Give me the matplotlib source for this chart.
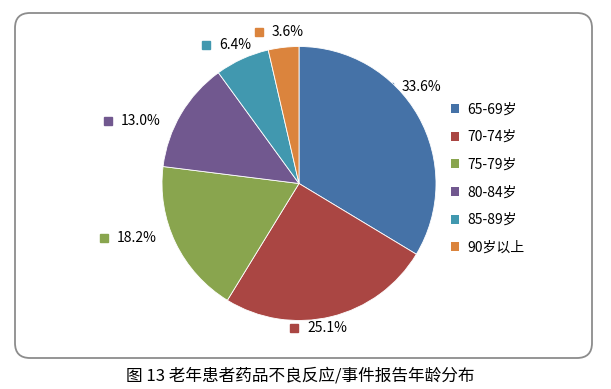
import matplotlib.pyplot as plt
from matplotlib.patches import FancyBboxPatch, Patch

plt.rcParams['font.family'] = ['Noto Sans CJK SC', 'DejaVu Sans']

# Data
groups = ['65-69岁', '70-74岁', '75-79岁', '80-84岁', '85-89岁', '90岁以上']
shares = [33.6, 25.1, 18.2, 13.0, 6.4, 3.6]
colors = ['#4572A7', '#AA4643', '#89A54E', '#71588F', '#4198AF', '#DB843D']
caption = '图 13 老年患者药品不良反应/事件报告年龄分布'

# label anchor points (pixels from top-left), where Excel put them
label_pos = [(389, 87), (294, 328), (104, 238), (108, 121), (206, 45), (259, 32)]

W, H = 611, 389
fig = plt.figure(figsize=(W / 100, H / 100), dpi=100)
ax = fig.add_axes([0, 0, 1, 1])

# rounded frame around the chart
frame = FancyBboxPatch((15, H - 358), 577, 345,
                       boxstyle='round,pad=0,rounding_size=15',
                       fc='white', ec='#8c8c8c', lw=1.3, zorder=0)
ax.add_patch(frame)

# small markers for data labels (drawn under the pie)
for (x, y), c, v in zip(label_pos, colors, shares):
    ax.plot(x, H - y, marker='s', ms=5.5, color=c, zorder=1)
    ax.text(x + 13, H - y, f'{v:.1f}%', fontsize=10, va='center', ha='left', zorder=3)

wedges, _ = ax.pie(shares, colors=colors, startangle=90, counterclock=False,
                   center=(299, H - 183.5), radius=137,
                   wedgeprops=dict(linewidth=0.6, edgecolor='white'))
for w in wedges:
    w.set_zorder(2)

ax.set_xlim(0, W)
ax.set_ylim(0, H)
ax.set_aspect('equal')
ax.axis('off')

# legend
handles = [Patch(facecolor=c, edgecolor='none', label=g) for g, c in zip(groups, colors)]
leg = ax.legend(handles=handles, loc='upper left', bbox_to_anchor=(445 / W, 1 - 97 / H),
                frameon=False, fontsize=10, handlelength=0.6, handleheight=0.6,
                handletextpad=0.6, labelspacing=0.98, borderaxespad=0)

fig.text(300 / W, 1 - 376 / H, caption, ha='center', va='center', fontsize=12)

fig.savefig('out.png', dpi=100)
